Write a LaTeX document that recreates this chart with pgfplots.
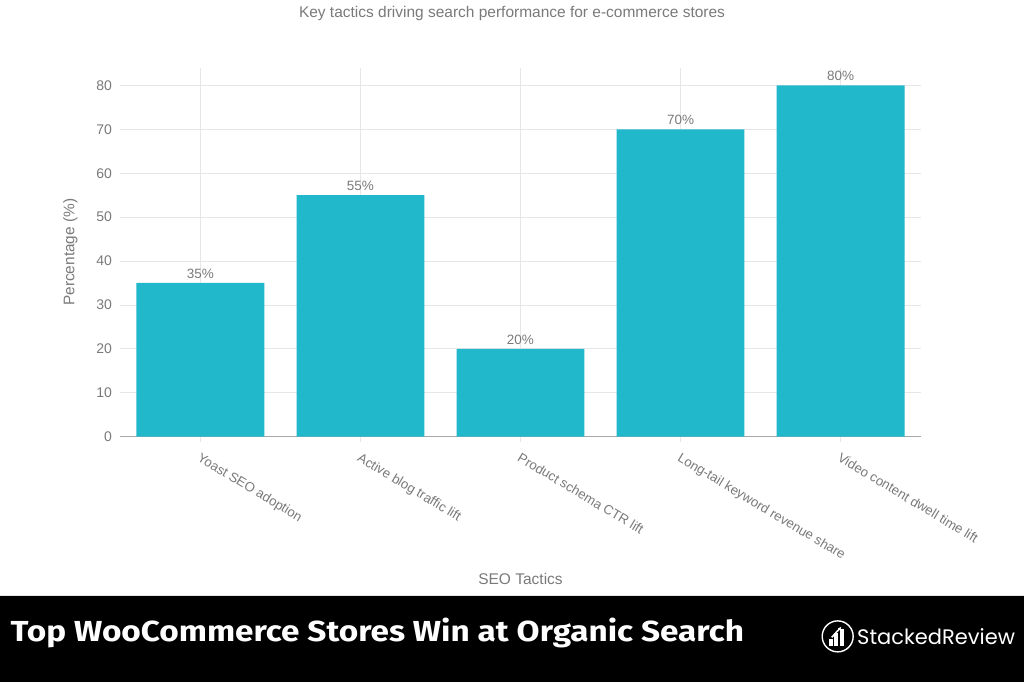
\documentclass[border=0pt]{standalone}
\usepackage{pgfplots}
\pgfplotsset{compat=1.18}
\usetikzlibrary{arrows.meta}
\usepackage{fontspec}
\setmainfont{Liberation Sans}
\newfontfamily\bannerfont[FakeStretch=1.15]{Fira Sans}
\newfontfamily\logofont{Poppins}
\definecolor{barc}{HTML}{22B8CC}
\definecolor{txt}{HTML}{7A7A7A}
\definecolor{gridc}{HTML}{E6E6E6}
\definecolor{axc}{HTML}{A8A8A8}
\begin{document}
\begin{tikzpicture}[x=1pt,y=1pt]
\fill[white] (0,0) rectangle (1024,683);
\fill[black] (0,0) rectangle (1024,86);
\draw[gridc, line width=1pt] (0,86.5) -- (1024,86.5);
\node[txt, font=\fontsize{15.5}{17}\selectfont] at (512,669) {Key tactics driving search performance for e-commerce stores};
\begin{axis}[
  at={(120pt,246pt)}, anchor=south west,
  width=801pt, height=369pt, scale only axis,
  xmin=-0.5, xmax=4.5, ymin=0, ymax=84,
  /pgf/number format/assume math mode=true,
  ybar, bar width=128pt,
  xtick={0,1,2,3,4},
  xticklabels={Yoast SEO adoption, Active blog traffic lift, Product schema CTR lift, Long-tail keyword revenue share, Video content dwell time lift},
  ytick={0,10,...,80},
  grid=major, major grid style={gridc, line width=0.8pt},
  axis x line=bottom, axis y line=left,
  x axis line style={-, axc, line width=1.3pt},
  y axis line style={draw=none},
  tick align=outside, major tick length=5pt,
  tick style={gridc, line width=0.8pt},
  ytick style={draw=none},
  ticklabel style={txt, font=\fontsize{14}{16}\selectfont},
  x tick label style={rotate=-31, anchor=north west, xshift=3pt, yshift=-5pt, font=\fontsize{13.3}{15}\selectfont},
  y tick label style={xshift=0pt},
  ylabel={Percentage (\%)},
  every axis y label/.style={at={(rel axis cs:0,0.5)}, anchor=center, rotate=90, yshift=50pt, txt, font=\fontsize{15.4}{17}\selectfont},
  xlabel={SEO Tactics},
  every axis x label/.style={at={(rel axis cs:0.5,0)}, anchor=center, yshift=-143pt, txt, font=\fontsize{15.5}{17}\selectfont},
  nodes near coords={\pgfmathprintnumber{\pgfplotspointmeta}\%},
  nodes near coords style={txt, font=\fontsize{13.5}{15}\selectfont, anchor=south, yshift=1pt},
]
\addplot[fill=barc, draw=none] coordinates {(0,35) (1,55) (2,20) (3,70) (4,80)};
\end{axis}
\node[anchor=base west, white, font=\bannerfont\bfseries\fontsize{29}{32}\selectfont, inner sep=0pt] at (10,41) {Top WooCommerce Stores Win at Organic Search};
% logo
\draw[white, line width=1.4pt] (838,46) circle (15.5);
\fill[white] (829,36) rectangle (833,43);
\fill[white] (834.5,36) rectangle (838.5,49);
\fill[white] (840,36) rectangle (844,53);
\draw[white, line width=1.6pt, -{Latex[length=4pt]}] (832,45) -- (842,56);
\node[anchor=west, white, font=\logofont\fontsize{21}{23}\selectfont] at (854,46) {StackedReview};
\end{tikzpicture}
\end{document}
